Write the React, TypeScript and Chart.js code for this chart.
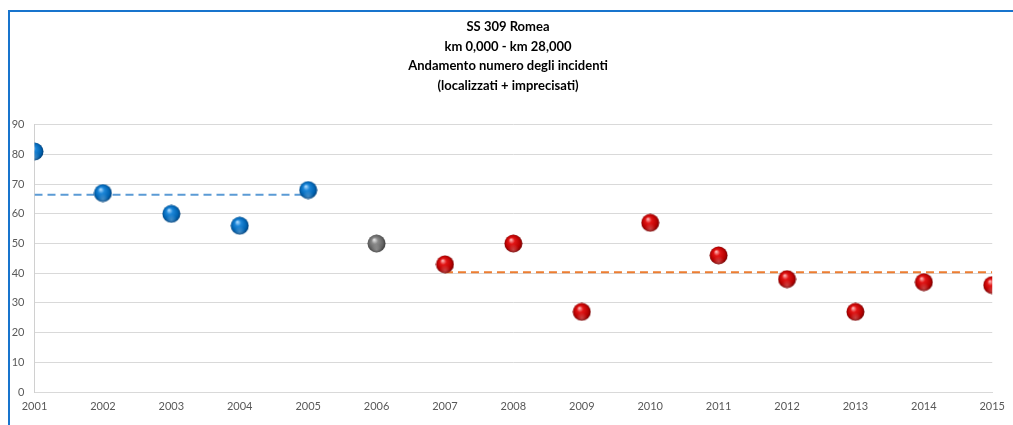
import React, { useEffect, useRef } from "react";
import { Chart, registerables } from "chart.js";

Chart.register(...registerables);

const years = ["2001","2002","2003","2004","2005","2006","2007","2008","2009","2010","2011","2012","2013","2014","2015"];
const incidents = [81, 67, 60, 56, 68, 50, 43, 50, 27, 57, 46, 38, 27, 37, 36];
const groups = ["blue","blue","blue","blue","blue","gray","red","red","red","red","red","red","red","red","red"];
const blueMean = 66.4;
const redMean = 40.3;
const titleLines = ["SS 309 Romea", "km 0,000 - km 28,000", "Andamento numero degli incidenti", "(localizzati + imprecisati)"];
const yTicks = { min: 0, max: 90, step: 10 };
const yTickLabels = ["0", "10", "20", "30", "40", "50", "60", "70", "80", "90"];

function makeSphere(stops: string[], size: number): HTMLCanvasElement {
  const c = document.createElement("canvas");
  c.width = size;
  c.height = size;
  const ctx = c.getContext("2d")!;
  const r = size / 2;
  const g = ctx.createRadialGradient(r * 0.75, r * 0.6, r * 0.05, r, r, r);
  g.addColorStop(0, stops[0]);
  g.addColorStop(0.3, stops[1]);
  g.addColorStop(0.75, stops[2]);
  g.addColorStop(1, stops[3]);
  ctx.fillStyle = g;
  ctx.beginPath();
  ctx.arc(r, r, r - 0.5, 0, Math.PI * 2);
  ctx.fill();
  const g2 = ctx.createRadialGradient(r, r * 1.65, 0, r, r * 1.65, r * 0.6);
  g2.addColorStop(0, "rgba(255,255,255,0.25)");
  g2.addColorStop(1, "rgba(255,255,255,0)");
  ctx.fillStyle = g2;
  ctx.beginPath();
  ctx.arc(r, r, r - 0.5, 0, Math.PI * 2);
  ctx.fill();
  return c;
}

export default function App() {
  const ref = useRef<HTMLCanvasElement>(null);
  useEffect(() => {
    if (!ref.current) return;
    const spheres: Record<string, HTMLCanvasElement> = {
      blue: makeSphere(["#a8d8ff", "#1c86d8", "#0062b0", "#00396e"], 19),
      gray: makeSphere(["#e0e0e0", "#8a8a8a", "#616161", "#333333"], 19),
      red: makeSphere(["#ffb0b0", "#e21515", "#b50000", "#650000"], 19),
    };
    // measure widest y tick label so mirrored labels can be right-aligned left of the axis
    const mctx = document.createElement("canvas").getContext("2d")!;
    mctx.font = "11px Lato";
    const widest = Math.max(...yTickLabels.map((t) => mctx.measureText(t).width));

    const blueLine = years.map((_, i) => (groups[i] === "blue" ? blueMean : null));
    const redLine = years.map((_, i) => (groups[i] === "red" ? redMean : null));
    const chart = new Chart(ref.current, {
      type: "line",
      data: {
        labels: years,
        datasets: [
          {
            label: "incidenti",
            data: incidents,
            showLine: false,
            pointStyle: groups.map((g) => spheres[g]) as any,
            pointRadius: 9,
            order: 0,
            clip: 0 as any,
          },
          {
            label: "media 2001-2005",
            data: blueLine,
            borderColor: "#5b9bd5",
            borderWidth: 2,
            borderDash: [8, 5],
            pointRadius: 0,
            fill: false,
            spanGaps: false,
            order: 1,
            clip: 0 as any,
          },
          {
            label: "media 2007-2015",
            data: redLine,
            borderColor: "#ed7d31",
            borderWidth: 2,
            borderDash: [8, 5],
            pointRadius: 0,
            fill: false,
            spanGaps: false,
            order: 1,
            clip: 0 as any,
          },
        ],
      },
      options: {
        animation: false,
        responsive: false,
        maintainAspectRatio: false,
        layout: { padding: { left: 10, right: 17, top: 0, bottom: 0 } },
        plugins: {
          legend: { display: false },
          tooltip: { enabled: false },
          title: {
            display: true,
            text: titleLines,
            color: "#000000",
            font: { family: "Lato", size: 13, weight: "bold", lineHeight: "19.7px" },
            padding: { top: 5, bottom: 29 },
          },
        },
        scales: {
          x: {
            type: "category",
            offset: false,
            grid: { display: false, drawTicks: false },
            border: { display: true, color: "#d9d9d9" },
            ticks: {
              color: "#595959",
              font: { family: "Lato", size: 11 },
              padding: 8,
              autoSkip: false,
              maxRotation: 0,
            },
            afterFit: (s: any) => { s.height = 33; },
          },
          y: {
            min: yTicks.min,
            max: yTicks.max,
            grid: { color: "#d9d9d9", drawTicks: false },
            border: { display: true, color: "#d0d0d0" },
            ticks: {
              stepSize: yTicks.step,
              color: "#595959",
              font: { family: "Lato", size: 11 },
              mirror: true,
              crossAlign: "far",
              padding: -(10 + widest),
            },
            afterFit: (s: any) => { s.width = 14.5; },
          },
        },
      },
    });
    return () => chart.destroy();
  }, []);
  return (
    <div
      style={{
        position: "absolute",
        left: 8,
        top: 10,
        width: 1005,
        height: 415,
        boxSizing: "border-box",
        borderTop: "2px solid #1874cd",
        borderLeft: "2px solid #1874cd",
        background: "#ffffff",
        overflow: "hidden",
      }}
    >
      <canvas ref={ref} width={1003} height={413} style={{ display: "block", width: 1003, height: 413 }} />
    </div>
  );
}
